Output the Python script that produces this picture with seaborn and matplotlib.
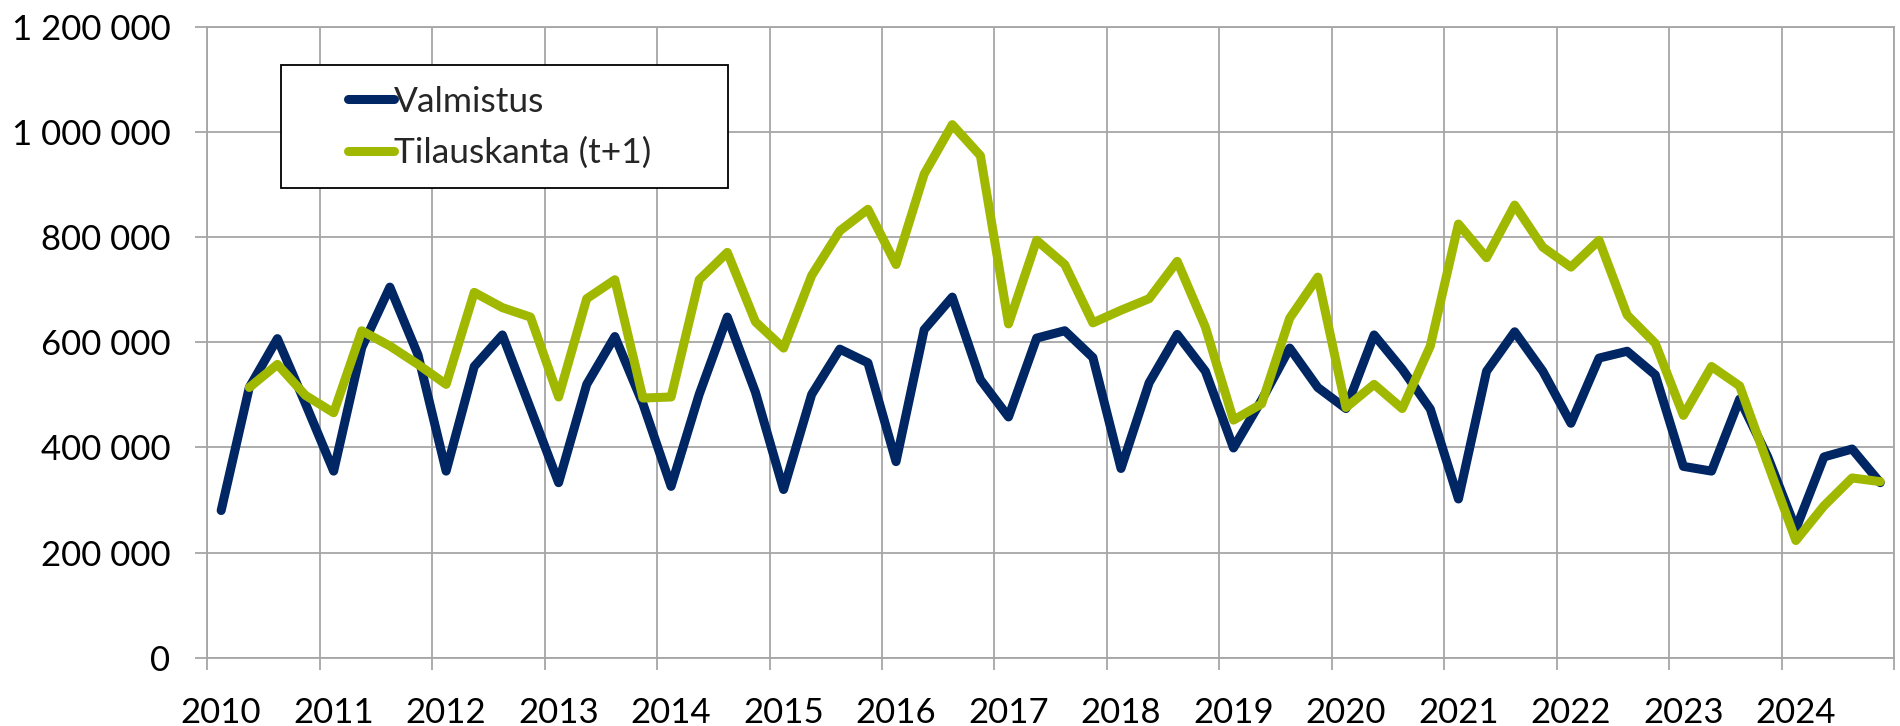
#!/usr/bin/env python3
"""Quarterly production vs. order backlog (t+1) line chart."""

import matplotlib

matplotlib.use("Agg")
import matplotlib.pyplot as plt
import pandas as pd
import seaborn as sns
from matplotlib.lines import Line2D
from matplotlib.patches import Rectangle
from matplotlib.ticker import FixedLocator, FuncFormatter

YEARS = list(range(2010, 2025))
QUARTERS = [f"{y}Q{q}" for y in YEARS for q in range(1, 5)]

VALMISTUS = [
    280, 514, 607, 483,
    355, 590, 705, 576,
    355, 554, 614, 474,
    333, 520, 611, 483,
    326, 501, 648, 505,
    320, 501, 587, 561,
    373, 624, 686, 529,
    458, 608, 622, 571,
    360, 523, 615, 545,
    399, 490, 589, 514,
    474, 614, 549, 473,
    302, 545, 620, 545,
    446, 570, 583, 538,
    364, 355, 492, 382,
    245, 382, 397, 333,
]

TILAUSKANTA = [
    None, 514, 558, 499,
    466, 622, 593, 558,
    520, 695, 666, 648,
    496, 683, 719, 494,
    496, 719, 771, 639,
    589, 727, 812, 853,
    748, 920, 1014, 955,
    635, 794, 748, 637,
    661, 683, 754, 629,
    452, 483, 646, 724,
    476, 520, 474, 593,
    825, 761, 861, 781,
    743, 794, 652, 598,
    461, 554, 517, 369,
    223, 289, 342, 335,
]

SERIES = ["Valmistus", "Tilauskanta (t+1)"]
COLORS = ["#002663", "#A0B800"]
GRID = "#A6A6A6"


def quarter_pos(label: str) -> float:
    year, q = label.split("Q")
    return int(year) + (int(q) - 1) * 0.25 + 0.125


def build_frame() -> pd.DataFrame:
    rows = []
    for name, values in zip(SERIES, [VALMISTUS, TILAUSKANTA]):
        for label, v in zip(QUARTERS, values):
            if v is None:
                continue
            rows.append({"x": quarter_pos(label), "value": v * 1000, "series": name})
    return pd.DataFrame(rows)


def main():
    sns.set_theme(style="white")
    plt.rcParams["font.family"] = ["Lato", "DejaVu Sans"]

    df = build_frame()
    fig, ax = plt.subplots(figsize=(19, 7.26), dpi=100)
    fig.subplots_adjust(left=0.109, right=0.997, bottom=0.094, top=0.963)

    sns.lineplot(
        data=df, x="x", y="value", hue="series", hue_order=SERIES,
        palette=COLORS, linewidth=6.5, ax=ax, legend=False,
        solid_capstyle="round",
    )

    ax.set_xlim(2010, 2025)
    ax.set_ylim(0, 1_200_000)
    ax.xaxis.set_major_locator(FixedLocator(YEARS + [2025]))
    ax.xaxis.set_major_formatter(FuncFormatter(lambda v, p: ""))
    ax.xaxis.set_minor_locator(FixedLocator([y + 0.125 for y in YEARS]))
    ax.xaxis.set_minor_formatter(FuncFormatter(lambda v, p: str(int(v))))
    ax.set_yticks(range(0, 1_200_001, 200_000))
    ax.yaxis.set_major_formatter(
        FuncFormatter(lambda v, p: f"{v:,.0f}".replace(",", " "))
    )

    ax.grid(True, which="major", color=GRID, linewidth=1.3)
    ax.tick_params(axis="x", which="major", bottom=True, length=8.5,
                   width=1.3, color=GRID, direction="out")
    ax.tick_params(axis="x", which="minor", bottom=True, length=0,
                   labelsize=25, pad=28, labelcolor="black")
    ax.tick_params(axis="y", which="major", left=True, length=8.5, width=1.3,
                   color=GRID, direction="out", labelsize=25, pad=18,
                   labelcolor="black")
    for spine in ax.spines.values():
        spine.set_color(GRID)
        spine.set_linewidth(1.3)
    ax.set_xlabel("")
    ax.set_ylabel("")

    handles = [
        Line2D([], [], color=c, linewidth=6.5, solid_capstyle="round")
        for c in COLORS
    ]
    ax.legend(
        handles, SERIES, loc="upper left", bbox_to_anchor=(0.073, 0.935),
        frameon=False, fontsize=25.5, handlelength=1.3, handletextpad=0.0,
        labelspacing=0.55, borderpad=0.0,
    )
    ax.add_patch(Rectangle((0.0439, 0.744), 0.265, 0.195,
                           transform=ax.transAxes, fill=True,
                           facecolor="white", edgecolor="black",
                           linewidth=1.3, zorder=2.5))

    fig.savefig("out.png", dpi=100)
    plt.close(fig)


if __name__ == "__main__":
    main()
